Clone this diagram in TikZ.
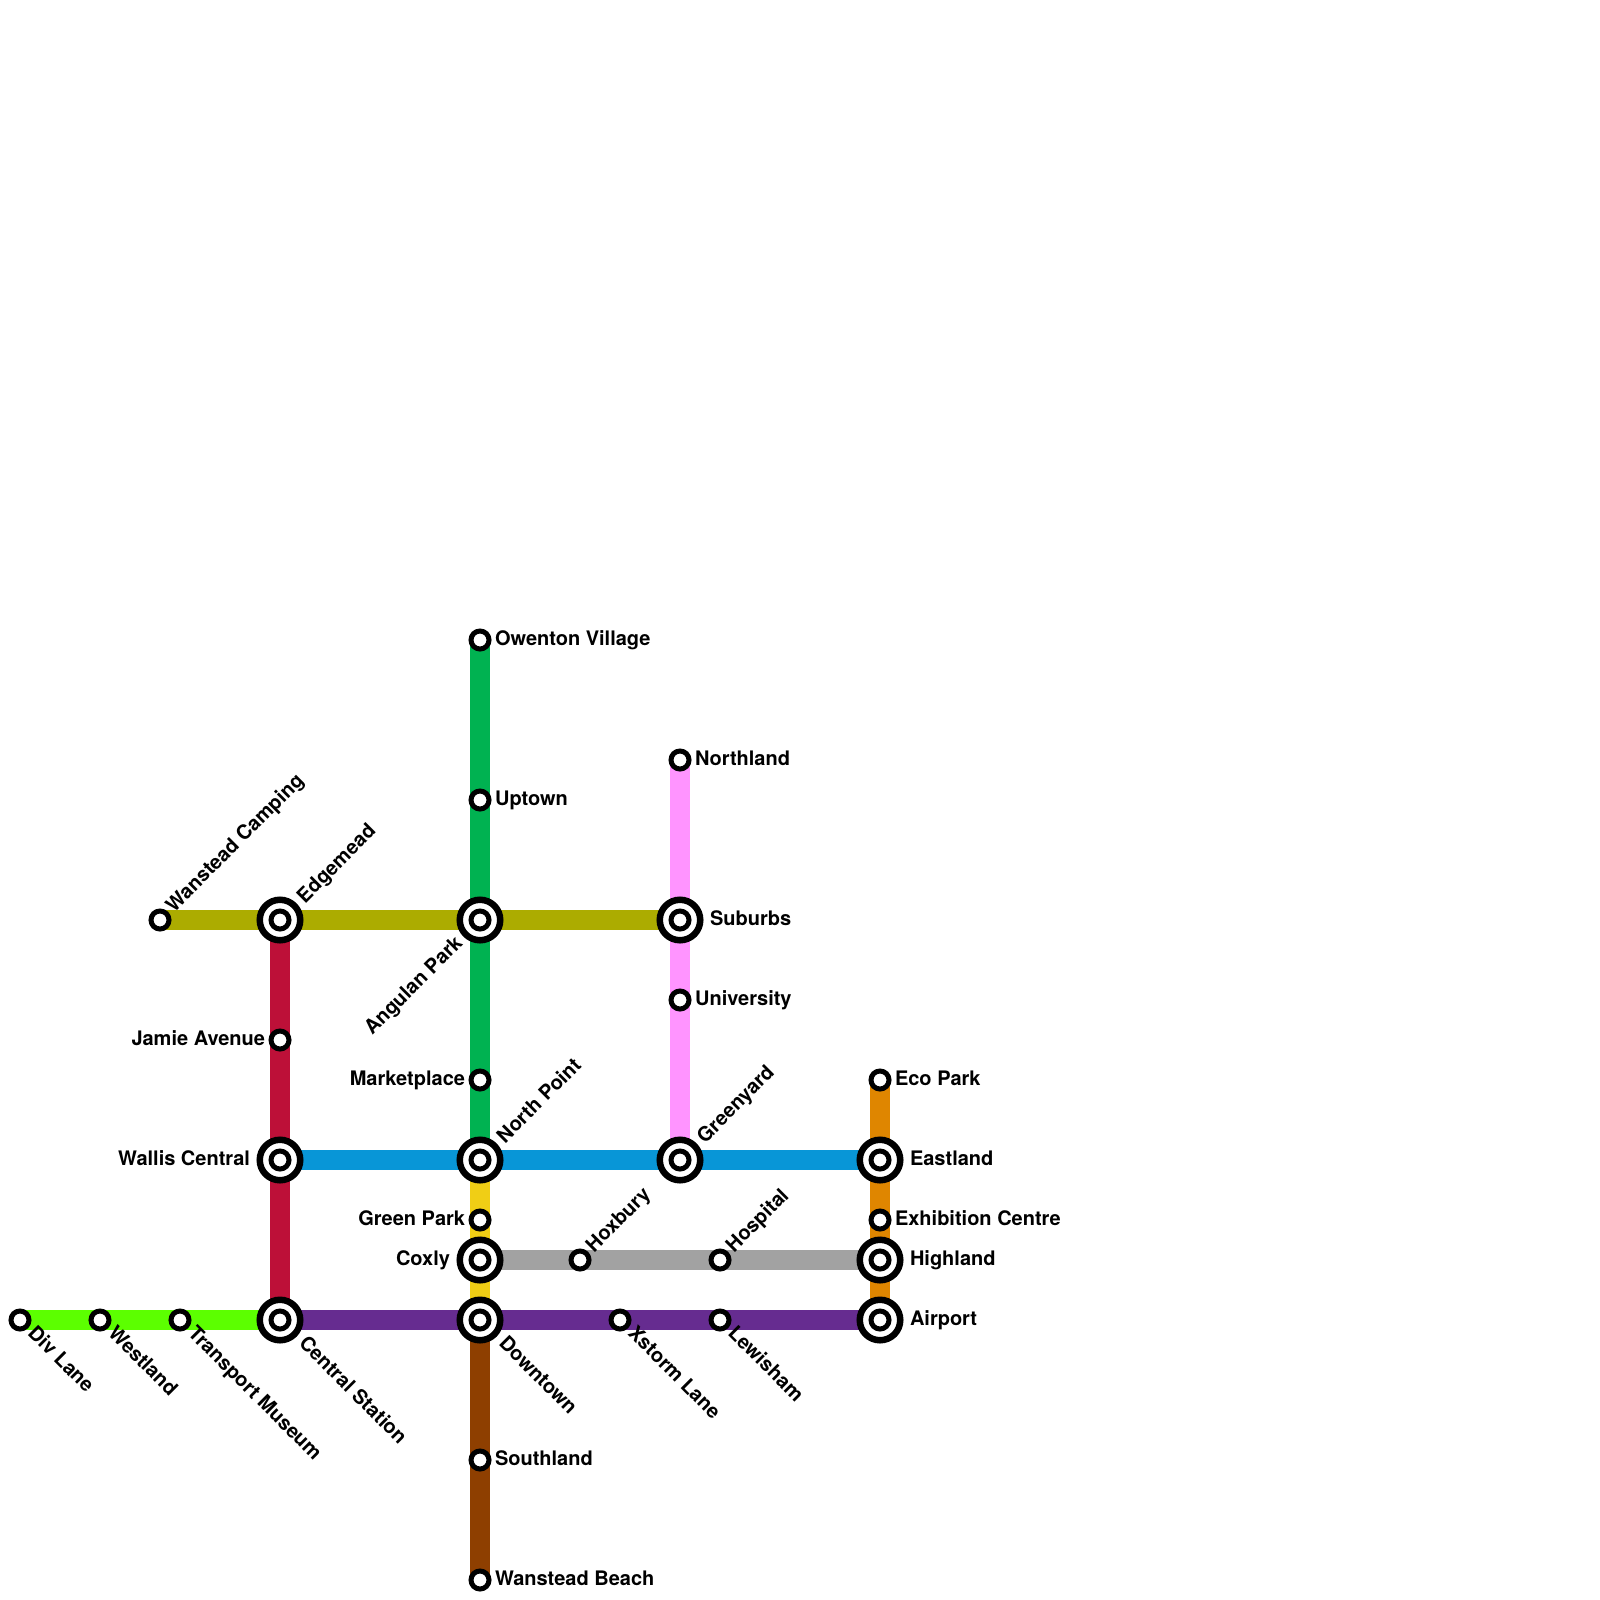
\documentclass[tikz,border=0pt]{standalone}
\usepackage{fontspec}
\setmainfont{TeX Gyre Heros}
\usetikzlibrary{backgrounds,calc}
\pgfdeclarelayer{lines}
\pgfsetlayers{background,lines,main}
\tikzset{
  x=1pt,y=-1pt,
  small/.style={circle,draw=black,fill=white,line width=5pt,minimum size=18pt,inner sep=0pt,outer sep=0pt},
  inter/.style={circle,draw=black,fill=white,line width=6.5pt,minimum size=40.5pt,inner sep=0pt,outer sep=0pt},
  core/.style={small},
  route/.style={line width=20pt,line cap=butt},
  lbl/.style={font=\fontsize{20}{24}\selectfont\bfseries,inner sep=0pt,outer sep=0pt,text=black},
  R/.style={lbl,anchor=base west},
  L/.style={lbl,anchor=base east},
  UR/.style={lbl,anchor=base west,rotate=45},
  DR/.style={lbl,anchor=base west,rotate=-45},
  UL/.style={lbl,anchor=base east,rotate=45},
}
\definecolor{clime}{HTML}{5CFF00}
\definecolor{cpurple}{HTML}{662C90}
\definecolor{cred}{HTML}{BD1038}
\definecolor{colive}{HTML}{ACAC00}
\definecolor{cgreen}{HTML}{00B251}
\definecolor{cyellow}{HTML}{F0CE15}
\definecolor{cbrown}{HTML}{8E3F00}
\definecolor{cblue}{HTML}{0896D7}
\definecolor{cgray}{HTML}{A2A2A2}
\definecolor{cpink}{HTML}{FF94FF}
\definecolor{corange}{HTML}{DF8600}
\newcommand{\smallst}[7]{% name, x, y, style, dx, dy, text
  \node[small] (#1) at (#2,#3) {};
  \node[#4] (#1-l) at (#2+#5,#3+#6) {#7};
}
\newcommand{\interst}[7]{%
  \node[inter] (#1) at (#2,#3) {};
  \node[core] (#1-c) at (#2,#3) {};
  \node[#4] (#1-l) at (#2+#5,#3+#6) {#7};
}
\begin{document}
\begin{tikzpicture}
\useasboundingbox (0,0) rectangle (1600,1600);
\smallst{div}{20}{1320}{DR}{7}{14.5}{Div Lane}
\smallst{west}{100}{1320}{DR}{7}{14.5}{Westland}
\smallst{trans}{180}{1320}{DR}{7}{14.5}{Transport Museum}
\interst{central}{280}{1320}{DR}{18}{24.5}{Central Station}
\interst{down}{480}{1320}{DR}{18}{24.5}{Downtown}
\smallst{xstorm}{620}{1320}{DR}{7}{14.5}{Xstorm Lane}
\smallst{lewis}{720}{1320}{DR}{7}{14.5}{Lewisham}
\interst{airport}{880}{1320}{R}{30}{5.5}{Airport}
\smallst{owen}{480}{640}{R}{15}{5.5}{Owenton Village}
\smallst{up}{480}{800}{R}{15}{5.5}{Uptown}
\smallst{north}{680}{760}{R}{15}{5.5}{Northland}
\smallst{camp}{160}{920}{UR}{14}{-7}{Wanstead Camping}
\interst{edge}{280}{920}{UR}{25}{-16}{Edgemead}
\interst{ang}{480}{920}{UL}{-16.5}{24.5}{Angulan Park}
\interst{sub}{680}{920}{R}{30}{5.5}{Suburbs}
\smallst{uni}{680}{1000}{R}{15}{5.5}{University}
\smallst{jamie}{280}{1040}{L}{-15}{5.5}{Jamie Avenue}
\smallst{market}{480}{1080}{L}{-15}{5.5}{Marketplace}
\smallst{eco}{880}{1080}{R}{15}{5.5}{Eco Park}
\interst{wallis}{280}{1160}{L}{-30}{5.5}{Wallis Central}
\interst{np}{480}{1160}{UR}{25}{-16}{North Point}
\interst{green}{680}{1160}{UR}{25}{-16}{Greenyard}
\interst{east}{880}{1160}{R}{30}{5.5}{Eastland}
\smallst{gp}{480}{1220}{L}{-15}{5.5}{Green Park}
\smallst{exh}{880}{1220}{R}{15}{5.5}{Exhibition Centre}
\interst{cox}{480}{1260}{L}{-30}{5.5}{Coxly}
\smallst{hox}{580}{1260}{UR}{14}{-7}{Hoxbury}
\smallst{hosp}{720}{1260}{UR}{14}{-7}{Hospital}
\interst{high}{880}{1260}{R}{30}{5.5}{Highland}
\smallst{south}{480}{1460}{R}{15}{5.5}{Southland}
\smallst{beach}{480}{1580}{R}{15}{5.5}{Wanstead Beach}
\begin{pgfonlayer}{lines}
\draw[route,clime] (div.center) -- (central.center);
\draw[route,cred] (edge.center) -- (central.center);
\draw[route,cgreen] (owen.center) -- (np.center);
\draw[route,cyellow] (np.center) -- (down.center);
\draw[route,cbrown] (down.center) -- (beach.center);
\draw[route,cpink] (north.center) -- (green.center);
\draw[route,corange] (eco.center) -- (airport.center);
\draw[route,cgray] (cox.center) -- (high.center);
\draw[route,colive] (camp.center) -- (sub.center);
\draw[route,cblue] (wallis.center) -- (east.center);
\draw[route,cpurple] (central.center) -- (airport.center);
\end{pgfonlayer}
\end{tikzpicture}
\end{document}
